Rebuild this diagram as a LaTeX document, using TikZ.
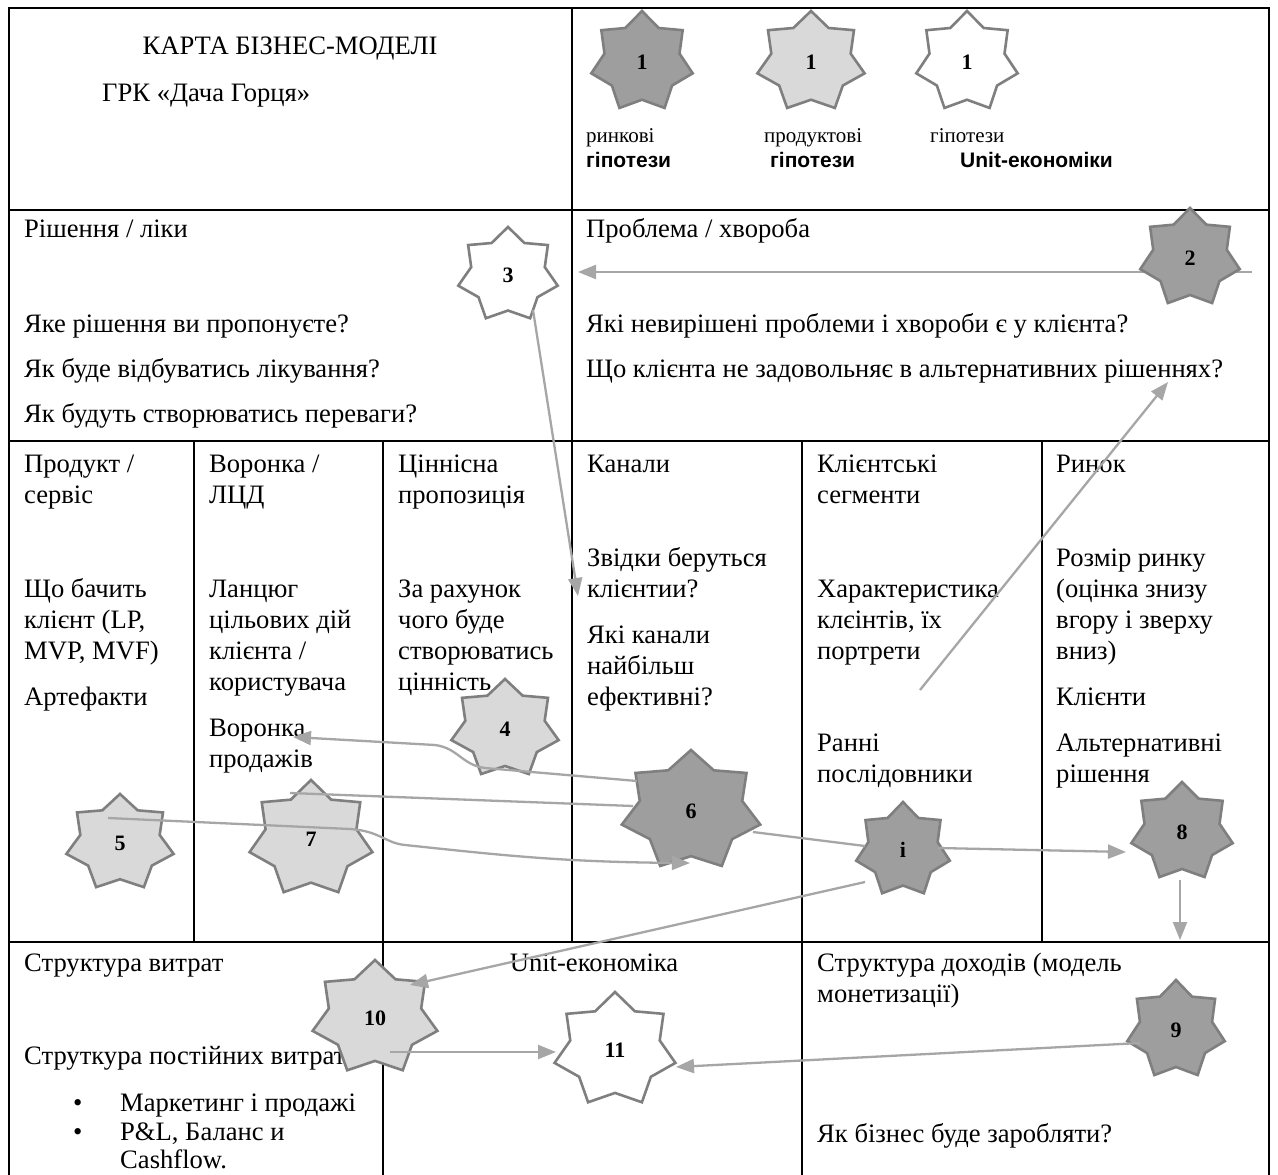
\documentclass[tikz,border=0pt]{standalone}
\usepackage{fontspec}
\setmainfont{Liberation Serif}
\newfontfamily\lsans{Liberation Sans}
\usetikzlibrary{arrows.meta}
\definecolor{starline}{HTML}{7F7F7F}
\definecolor{stardark}{HTML}{9E9E9E}
\definecolor{starlight}{HTML}{D9D9D9}
\definecolor{arrowgray}{HTML}{A6A6A6}
\tikzset{
  grid/.style={draw=black, line width=2pt},
  txt/.style={anchor=base west, inner sep=0pt, font=\fontsize{26.6}{31}\selectfont},
  blk/.style={txt, text width=#1, align=flush left},
  small/.style={anchor=base west, inner sep=0pt, font=\fontsize{21}{25}\selectfont},
  boldsans/.style={anchor=base west, inner sep=0pt, font=\lsans\bfseries\fontsize{21}{25}\selectfont},
  num/.style={circle, inner sep=0pt, font=\fontsize{22}{22}\selectfont\bfseries},
  conn/.style={draw=arrowgray, line width=2.3pt, -{Triangle[length=18pt,width=14pt]}},
  plainconn/.style={draw=arrowgray, line width=2.3pt},
}
\newcommand\hepstar[7]{%
  \path[fill=#6, draw=starline, line width=2.6pt, line join=miter, miter limit=10]
    plot[samples at={0,...,13}, variable=\k]
    ({#2+(#4)*(1-0.26*mod(\k,2))*cos(90+\k*360/14)},
     {#3-(#5)*(1-0.26*mod(\k,2))*sin(90+\k*360/14)}) -- cycle;
  \node[num] (#1) at (#2,#3) {#7};
}
\begin{document}
\begin{tikzpicture}[x=1pt,y=-1pt]
\useasboundingbox (0,0) rectangle (1278,1175);
\clip (0,0) rectangle (1278,1175);
\fill[white] (0,0) rectangle (1278,1175);
% grid
\draw[grid] (9,8) rectangle (1269,1300);
\draw[grid] (9,210) -- (1269,210);
\draw[grid] (9,441) -- (1269,441);
\draw[grid] (9,942) -- (1269,942);
\draw[grid] (572,8) -- (572,942);
\draw[grid] (194,441) -- (194,942);
\draw[grid] (383,441) -- (383,1300);
\draw[grid] (802,441) -- (802,1300);
\draw[grid] (1042,441) -- (1042,942);
% header
\node[txt, anchor=base] (title) at (290,54) {КАРТА БІЗНЕС-МОДЕЛІ};
\node[txt] (sub) at (102,101) {ГРК «Дача Горця»};
\node[small] (lg1a) at (586,142) {ринкові};
\node[boldsans] (lg1b) at (586,167) {гіпотези};
\node[small] (lg2a) at (764,142) {продуктові};
\node[boldsans] (lg2b) at (770,167) {гіпотези};
\node[small] (lg3a) at (930,142) {гіпотези};
\node[boldsans] (lg3b) at (960,167) {Unit-економіки};
% row 2
\node[txt] (r1) at (24,237) {Рішення / ліки};
\node[txt] (r2) at (24,332) {Яке рішення ви пропонуєте?};
\node[txt] (r3) at (24,377) {Як буде відбуватись лікування?};
\node[txt] (r4) at (24,422) {Як будуть створюватись переваги?};
\node[txt] (p1) at (586,237) {Проблема / хвороба};
\node[txt] (p2) at (586,332) {Які невирішені проблеми і хвороби є у клієнта?};
\node[txt] (p3) at (586,377) {Що клієнта не задовольняє в альтернативних рішеннях?};
% row 3
\node[blk=165] (t11) at (24,472) {Продукт /\\сервіс};
\node[blk=165] (t12) at (24,597) {Що бачить\\клієнт (LP,\\MVP, MVF)};
\node[txt] (t13) at (24,705) {Артефакти};
\node[blk=170] (t21) at (209,472) {Воронка /\\ЛЦД};
\node[blk=170] (t22) at (209,597) {Ланцюг\\цільових дій\\клієнта /\\користувача};
\node[blk=170] (t23) at (209,736) {Воронка\\продажів};
\node[blk=170] (t31) at (398,472) {Ціннісна\\пропозиція};
\node[blk=170] (t32) at (398,597) {За рахунок\\чого буде\\створюватись\\цінність};
\node[txt] (t41) at (587,472) {Канали};
\node[blk=210] (t42) at (587,566) {Звідки беруться\\клієнтии?};
\node[blk=210] (t43) at (587,643) {Які канали\\найбільш\\ефективні?};
\node[blk=220] (t51) at (817,472) {Клієнтські\\сегменти};
\node[blk=220] (t52) at (817,597) {Характеристика\\клєінтів, їх\\портрети};
\node[blk=220] (t53) at (817,751) {Ранні\\послідовники};
\node[txt] (t61) at (1056,472) {Ринок};
\node[blk=210] (t62) at (1056,566) {Розмір ринку\\(оцінка знизу\\вгору і зверху\\вниз)};
\node[txt] (t63) at (1056,705) {Клієнти};
\node[blk=210] (t64) at (1056,751) {Альтернативні\\рішення};
% row 4
\node[txt] (b1) at (24,971) {Структура витрат};
\node[txt, anchor=base] (b2) at (594,971) {Unit-економіка};
\node[blk=420] (b3) at (817,971) {Структура доходів (модель\\монетизації)};
\node[txt] (b4) at (24,1064) {Струткура постійних витрат};
\node[txt] (b5) at (73,1111) {•};
\node[txt] (b6) at (120,1111) {Маркетинг і продажі};
\node[txt] (b7) at (73,1140) {•};
\node[txt] (b8) at (120,1140) {P\&L, Баланс и};
\node[txt] (b8b) at (120,1168) {Cashflow.};
\node[txt] (b9) at (817,1142) {Як бізнес буде заробляти?};
% arrow behind star 2
\coordinate (p1tip) at (578,272);
\coordinate (s2tail) at (1252,272);
\draw[conn] (s2tail) -- (p1tip);
% stars
\hepstar{L1}{642}{62}{52}{51}{stardark}{1}
\hepstar{L2}{811}{62}{55}{51}{starlight}{1}
\hepstar{L3}{967}{62}{52}{51}{white}{1}
\hepstar{s2}{1190}{258}{51}{50}{stardark}{2}
\hepstar{s3}{508}{275}{51}{48}{white}{3}
\hepstar{s4}{505}{729}{55}{50}{starlight}{4}
\hepstar{s5}{120}{843}{55}{49}{starlight}{5}
\hepstar{s7}{311}{839}{63}{59}{starlight}{7}
\hepstar{s6}{691}{811}{71}{61}{stardark}{6}
\hepstar{s1}{903}{850}{48}{48}{stardark}{i}
\hepstar{s8}{1182}{832}{52}{50}{stardark}{8}
\hepstar{s10}{375}{1018}{64}{58}{starlight}{10}
\hepstar{s11}{615}{1050}{62}{58}{white}{11}
\hepstar{s9}{1176}{1030}{50}{50}{stardark}{9}
% connectors
\coordinate (p2tip) at (578,596);
\draw[conn] ([shift={(25,35)}]s3.center) -- (p2tip);
\coordinate (p3a) at (920,690);
\coordinate (p3b) at (1168,382);
\draw[conn] (p3a) -- (p3b);
\coordinate (p4tip) at (293,737);
\draw[conn] ([shift={(-54,-30)}]s6.center) -- (485,768) .. controls (462,765) and (458,748) .. (435,745) -- (p4tip);
\draw[plainconn] ([shift={(-21,-46)}]s7.center) -- ([shift={(-58,-5)}]s6.center);
\draw[conn] ([shift={(-12,-25)}]s5.center) -- (350,829) .. controls (380,831) and (385,843) .. (405,845) .. controls (500,855) and (560,862) .. ([shift={(-1,52)}]s6.center);
\draw[plainconn] ([shift={(62,21)}]s6.center) -- ([shift={(-38,-4)}]s1.center);
\draw[conn] ([shift={(35,-2)}]s1.center) -- ([shift={(-56,20)}]s8.center);
\coordinate (p9tip) at (1180,940);
\draw[conn] ([shift={(-2,48)}]s8.center) -- (p9tip);
\draw[conn] ([shift={(-38,32)}]s1.center) -- ([shift={(35,-33)}]s10.center);
\draw[conn] ([shift={(15,34)}]s10.center) -- ([shift={(-59,2)}]s11.center);
\draw[conn] ([shift={(-36,13)}]s9.center) -- ([shift={(61,17)}]s11.center);
\end{tikzpicture}
\end{document}
